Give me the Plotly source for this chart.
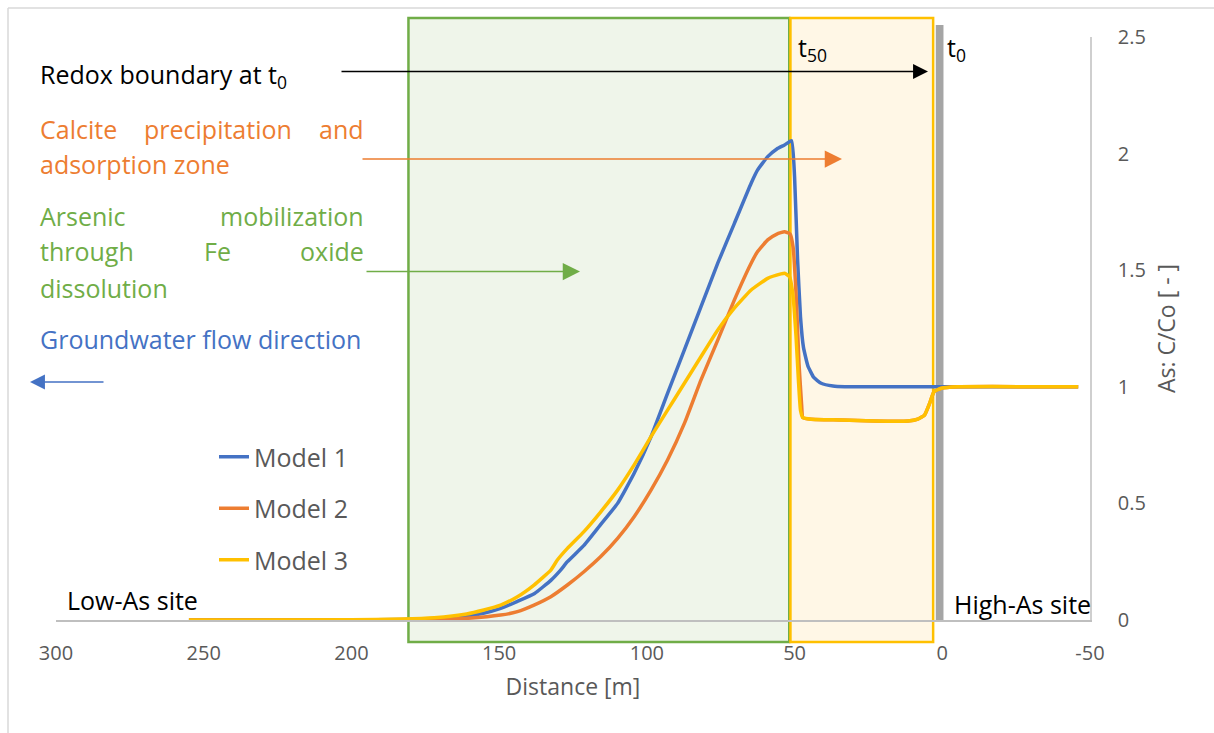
import plotly.graph_objects as go

# ---- Simulated arsenic breakthrough profiles (C/Co vs distance) ----
dist_m1 = [255, 200, 183, 172, 161, 155, 149.5, 144, 138, 132.5, 129.2, 126.9, 121.3, 115.6,
           109.9, 104.3, 98.6, 93.0, 87.3, 81.7, 76.0, 70.4, 64.7, 62.5, 59.1, 56.0, 53.4, 51.0,
           50.0, 49.0, 48.0, 47.0, 45.5, 43.5, 41.0, 37.0, 33.0, 0.0, -46]
cc_m1 = [0, 0, 0.002, 0.006, 0.017, 0.03, 0.05, 0.079, 0.114, 0.17, 0.214, 0.25, 0.32, 0.41,
         0.50, 0.629, 0.786, 0.972, 1.158, 1.343, 1.53, 1.70, 1.873, 1.93, 1.987, 2.02, 2.037, 2.055,
         1.90, 1.55, 1.30, 1.17, 1.09, 1.04, 1.015, 1.003, 1.0, 1.0, 1.0]

dist_m2 = [255, 200, 183, 172, 161, 149.5, 143.8, 138.2, 132.5, 126.9, 121.3, 115.6, 109.9,
           104.3, 98.6, 93.0, 87.3, 81.7, 76.0, 70.4, 64.7, 62.5, 59.1, 56.0, 53.4, 51.5, 50.5,
           49.5, 48.5, 47.6, 47.2, 44.4, 34.2, 23.0, 11.6, 8.3, 6.0, 4.3, 2.8, 0.3, -5.3, -46]
cc_m2 = [0, 0, 0.001, 0.002, 0.007, 0.021, 0.036, 0.064, 0.10, 0.15, 0.207, 0.272, 0.35,
         0.443, 0.557, 0.686, 0.843, 1.029, 1.20, 1.372, 1.53, 1.58, 1.63, 1.655, 1.665, 1.655, 1.60,
         1.40, 1.10, 0.92, 0.868, 0.861, 0.858, 0.853, 0.853, 0.861, 0.879, 0.929, 0.979, 0.994, 1.0, 1.0]

dist_m3 = [255, 200, 183, 172, 161, 155.2, 149.5, 143.8, 138.2, 132.5, 130.3, 126.9, 121.3,
           115.6, 109.9, 104.3, 98.6, 93.0, 87.3, 81.7, 76.0, 70.4, 64.7, 59.1, 54.6, 53.4, 51.7,
           50.6, 49.5, 48.7, 48.0, 47.2, 44.4, 34.2, 23.0, 11.6, 8.3, 6.0, 4.3, 2.8, 0.3, -5.3, -46]
cc_m3 = [0, 0.001, 0.004, 0.010, 0.026, 0.043, 0.064, 0.10, 0.15, 0.214, 0.257, 0.307, 0.379,
         0.464, 0.557, 0.665, 0.786, 0.90, 1.015, 1.129, 1.244, 1.337, 1.415, 1.465, 1.484, 1.487, 1.472,
         1.40, 1.215, 1.03, 0.90, 0.868, 0.861, 0.858, 0.853, 0.853, 0.861, 0.879, 0.929, 0.979, 0.994, 1.0, 1.0]

series_names = ["Model 1", "Model 2", "Model 3"]
series_colors = ["#4472C4", "#ED7D31", "#FFC000"]

x_ticks = [300, 250, 200, 150, 100, 50, 0, -50]
y_ticks = [0, 0.5, 1, 1.5, 2, 2.5]

# zone boundaries along the flow path [m]
green_zone = (180.7, 51.8)
yellow_zone = (51.4, 3.1)
redox_t0 = (2.2, -0.4)

# ---- layout geometry (pixels of the 1214x733 page) ----
W, H = 1214, 733
L, R, T, B = 56, 1090, 37, 620
FONT = "Open Sans"
GREY_TXT = "#595959"


def xp(px):
    return (px - L) / (R - L)


def yp(py):
    return (B - py) / (B - T)


fig = go.Figure()
for i, (xs, ys) in enumerate([(dist_m1, cc_m1), (dist_m2, cc_m2), (dist_m3, cc_m3)]):
    fig.add_trace(go.Scatter(
        x=xs, y=ys, mode="lines", name=series_names[i],
        legendgroup=series_names[i],
        line=dict(color=series_colors[i], width=3.5, shape="spline", smoothing=0.4),
        hoverinfo="skip",
    ))

shapes = [
    # arsenic mobilization zone
    dict(type="rect", xref="x", yref="paper", x0=green_zone[0], x1=green_zone[1],
         y0=yp(642), y1=yp(18), fillcolor="#EFF5EA", line=dict(color="#70AD47", width=2.5),
         layer="below"),
    # calcite precipitation / adsorption zone
    dict(type="rect", xref="x", yref="paper", x0=yellow_zone[0], x1=yellow_zone[1],
         y0=yp(642), y1=yp(18), fillcolor="#FFF7E6", line=dict(color="#FFC000", width=2.5),
         layer="below"),
    # redox boundary at t0
    dict(type="rect", xref="x", yref="paper", x0=redox_t0[0], x1=redox_t0[1],
         y0=0, y1=yp(25), fillcolor="#A5A5A5", line=dict(width=0), layer="below"),
    # chart frame
    dict(type="line", xref="paper", yref="paper", x0=xp(8), x1=xp(8), y0=yp(8), y1=yp(740),
         line=dict(color="#D9D9D9", width=1.5)),
    dict(type="line", xref="paper", yref="paper", x0=xp(8), x1=xp(1220), y0=yp(8), y1=yp(8),
         line=dict(color="#D9D9D9", width=1.5)),
]

annotations = []


def label(text, px, py, color, size=25, anchor="left"):
    annotations.append(dict(
        text=text, xref="paper", yref="paper", x=xp(px), y=yp(py),
        xanchor=anchor, yanchor="middle", showarrow=False,
        font=dict(family=FONT, size=size, color=color),
    ))


def arrow(px0, px1, py, color, width=1.3):
    annotations.append(dict(
        text="", xref="paper", yref="paper", x=xp(px1), y=yp(py),
        ax=px0 - px1, ay=0, axref="pixel", ayref="pixel",
        showarrow=True, arrowhead=2, arrowsize=2.3, arrowwidth=width,
        arrowcolor=color, standoff=0, startstandoff=0,
    ))


ORANGE, GREEN, BLUE = "#ED7D31", "#70AD47", "#4472C4"

label("Redox boundary at t<sub>0</sub>", 38, 76, "#000000")
label("Calcite", 38, 129, ORANGE)
label("precipitation", 218, 129, ORANGE, anchor="center")
label("and", 366, 129, ORANGE, anchor="right")
label("adsorption zone", 38, 164, ORANGE)
label("Arsenic", 38, 216, GREEN)
label("mobilization", 366, 216, GREEN, anchor="right")
label("through", 38, 251, GREEN)
label("Fe", 217, 251, GREEN, anchor="center")
label("oxide", 366, 251, GREEN, anchor="right")
label("dissolution", 38, 288, GREEN)
label("Groundwater flow direction", 38, 339, BLUE)
label("t<sub>50</sub>", 796, 48, "#000000")
label("t<sub>0</sub>", 945, 48, "#000000")
label("Low-As site", 65, 600, "#000000")
label("High-As site", 952, 604, "#000000")

arrow(340, 928, 71.5, "#000000", 1.3)
arrow(361, 842, 159, ORANGE, 1.5)
arrow(365, 580, 271.5, GREEN, 1.5)
arrow(105, 30, 382, BLUE, 1.3)

fig.update_layout(
    width=W, height=H,
    margin=dict(l=L, r=W - R, t=T, b=H - B, pad=0),
    paper_bgcolor="white", plot_bgcolor="white",
    font=dict(family=FONT, color=GREY_TXT),
    shapes=shapes, annotations=annotations,
    showlegend=True,
    legend=dict(
        x=xp(214), y=yp(434), xanchor="left", yanchor="top",
        font=dict(family=FONT, size=25, color=GREY_TXT),
        bgcolor="rgba(0,0,0,0)", tracegroupgap=16, traceorder="grouped",
    ),
    xaxis=dict(
        range=[300, -50], tickvals=x_ticks, ticktext=[str(v) for v in x_ticks],
        showgrid=False, zeroline=False, showline=True, linecolor="#BFBFBF", linewidth=1.5,
        ticks="", ticklabelstandoff=14,
        tickfont=dict(family=FONT, size=20, color=GREY_TXT),
        title=dict(text="Distance [m]", font=dict(family=FONT, size=23, color=GREY_TXT), standoff=14),
    ),
    yaxis=dict(
        side="right", range=[0, 2.5], tickvals=y_ticks,
        showgrid=False, zeroline=False, showline=True, linecolor="#CFCFCF", linewidth=1.5,
        ticks="", ticklabelstandoff=22,
        tickfont=dict(family=FONT, size=20, color=GREY_TXT),
        title=dict(text="As: C/Co [ - ]", font=dict(family=FONT, size=23, color=GREY_TXT), standoff=14),
    ),
)

fig.write_html("out.html")
